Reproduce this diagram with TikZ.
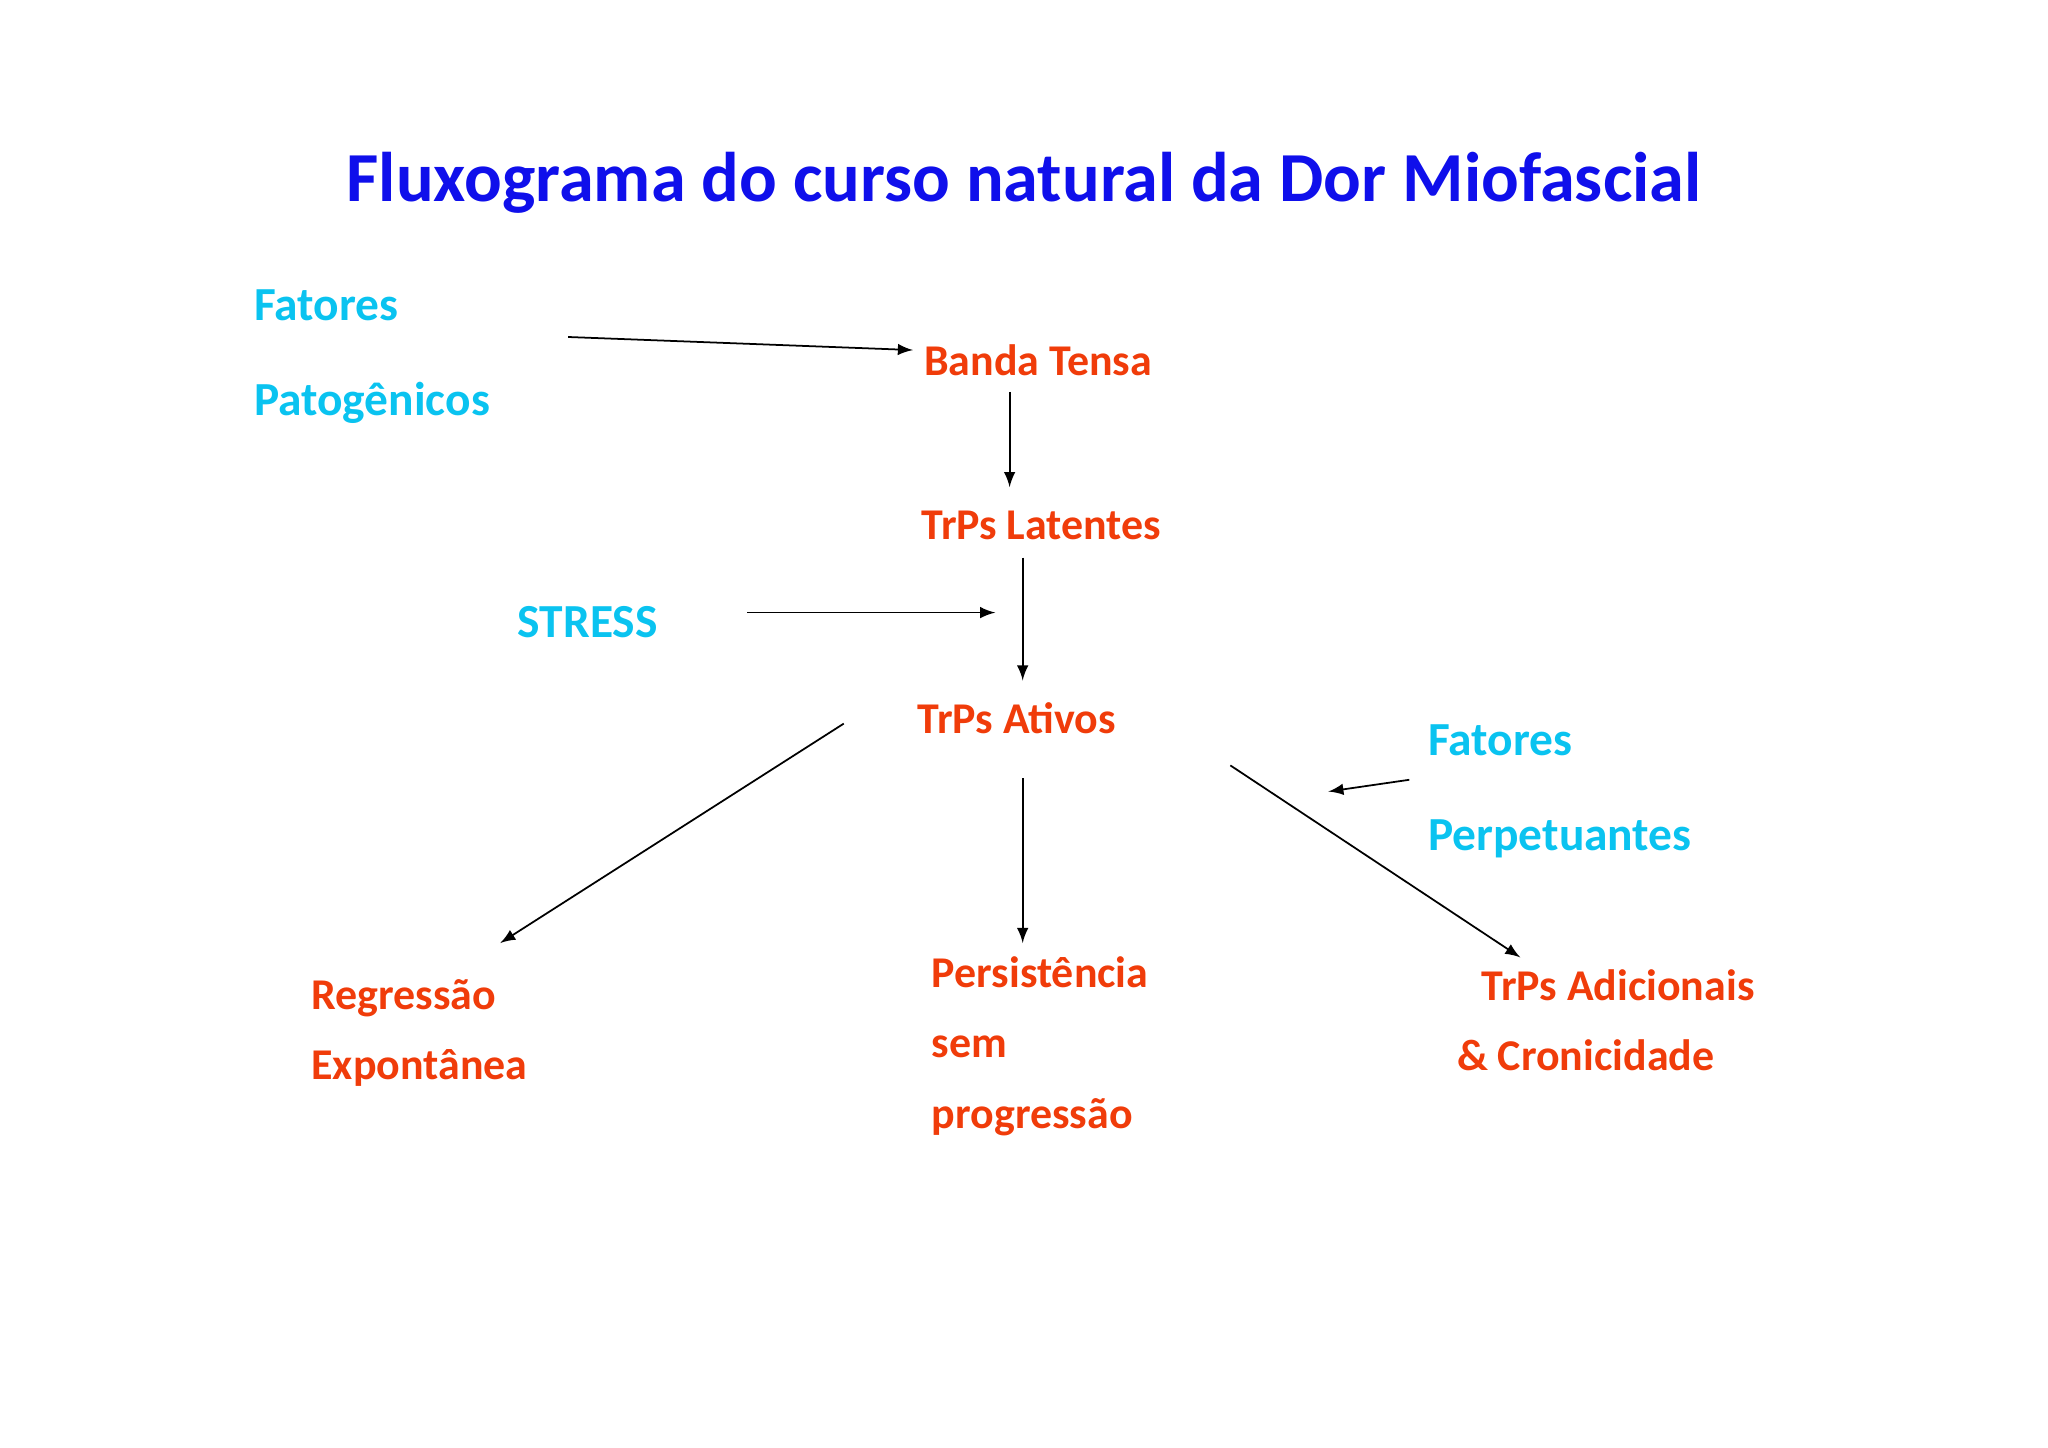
\documentclass[tikz,border=0pt]{standalone}
\usepackage{fontspec}
\setmainfont{Carlito}
\begin{document}
\begin{tikzpicture}[x=0.013061cm,y=-0.013061cm,
  red/.style={anchor=west,text=redc,font=\bfseries\fontsize{12.5}{20}\selectfont,align=left,inner sep=0pt},
  cy/.style={anchor=west,text=cyanc,font=\bfseries\fontsize{13.5}{27}\selectfont,align=left,inner sep=0pt},
  arr/.style={-latex,line width=0.5pt}]
\definecolor{redc}{RGB}{240,60,10}
\definecolor{cyanc}{RGB}{10,195,240}
\definecolor{bluec}{RGB}{15,15,235}
\useasboundingbox (0,0) rectangle (1568,1108);
\node[text=bluec,font=\bfseries\fontsize{20}{24}\selectfont] (title) at (784,140) {Fluxograma do curso natural da Dor Miofascial};
\node[cy] (fp) at (194,273) {Fatores\\Patogênicos};
\node[red] (bt) at (707,276) {Banda Tensa};
\node[red] (tl) at (705,402) {TrPs Latentes};
\node[cy] (st) at (396,476) {STRESS};
\node[red] (ta) at (702,550) {TrPs Ativos};
\node[cy] (fpe) at (1093,606) {Fatores\\Perpetuantes};
\node[red] (re) at (238,791) {Regressão\\Expontânea};
\node[red] (pe) at (713,801) {Persistência\\sem\\progressão};
\node[red] (ad) at (1115,781) {\hspace*{7pt}TrPs Adicionais\\\& Cronicidade};
\coordinate (a1) at (435,258); \coordinate (b1) at (699,268);
\coordinate (a2) at (773,300); \coordinate (b2) at (773,373);
\coordinate (a3) at (783,427); \coordinate (b3) at (783,521);
\coordinate (a4) at (572,469); \coordinate (b4) at (762,469);
\coordinate (a5) at (646,554); \coordinate (b5) at (383,722);
\coordinate (a6) at (783,596); \coordinate (b6) at (783,722);
\coordinate (a7) at (942,586); \coordinate (b7) at (1164,733);
\coordinate (a8) at (1079,597); \coordinate (b8) at (1017,606);
\foreach \i in {1,...,8} \draw[arr] (a\i) -- (b\i);
\end{tikzpicture}
\end{document}
